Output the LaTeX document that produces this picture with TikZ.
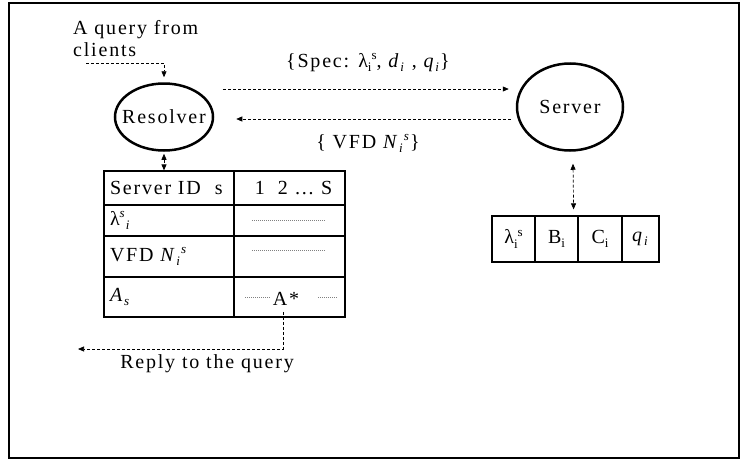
\documentclass[tikz,border=0pt]{standalone}
\usepackage{fontspec}
\setmainfont{Liberation Serif}[LetterSpace=9]
\usetikzlibrary{shapes.geometric,arrows.meta,calc}

% small raised and lowered indices
\newcommand{\subtx}[1]{\raisebox{-4.5pt}{\fontsize{13}{13}\selectfont #1}}
\newcommand{\suptx}[1]{\raisebox{7.5pt}{\fontsize{13}{13}\selectfont #1}}

\begin{document}
\begin{tikzpicture}[x=1pt, y=-1pt, >={Triangle[length=6pt,width=5pt]},
    every node/.style={font=\fontsize{20}{22}\selectfont},
    agent/.style={ellipse, draw=black, line width=2.5pt, inner sep=0pt},
    cell/.style={rectangle, draw=black, line width=1.2pt, inner xsep=6pt, inner ysep=0pt},
    keycell/.style={cell, minimum width=130pt, text width=118pt, align=left},
    valcell/.style={cell, minimum width=111pt, text width=99pt, align=center},
    slot/.style={cell, inner xsep=1pt, minimum height=46pt},
    flow/.style={line width=0.7pt, dash pattern=on 3pt off 2pt},
    filler/.style={gray, line width=0.5pt, dash pattern=on 1pt off 1pt} ]
    \useasboundingbox (0,0) rectangle (741,463);
    \draw[line width=2.8pt] (9,3) rectangle (739,458);

    \node[agent, minimum width=98pt, minimum height=67pt, label=center:Resolver] (resolver) at (164,117) {};
    \node[agent, minimum width=106pt, minimum height=87pt, label=center:Server] (server) at (570,107) {};

    \node[anchor=north west, align=left, inner sep=0pt] (query) at (73,20) {A query from\\clients};
    \coordinate (qin) at (86,63);
    \node[anchor=base, inner sep=0pt] (spec) at (368,67)
        {\{Spec: λ\subtx{i}\suptx{s}, \textit{d}\subtx{\textit{i}} , \textit{q}\subtx{\textit{i}}\}};
    \node[anchor=base, inner sep=0pt] (vfd) at (368,148)
        {\{ VFD \textit{N}\subtx{\textit{i}}\suptx{\textit{s}}\}};

    % Resolver table
    \node[keycell, minimum height=34pt] (idkey) at (169,188) {Server ID\hspace{14pt}s};
    \node[valcell, minimum height=34pt] (idval) at (289.5,188) {\hspace*{8pt}1\hspace{13pt}2 … S};
    \node[keycell, minimum height=31pt] (lamkey) at (169,220.5) {λ\suptx{\textit{s}}\subtx{\textit{i}}};
    \node[valcell, minimum height=31pt] (lamval) at (289.5,220.5) {};
    \node[keycell, minimum height=41pt] (vfdkey) at (169,256.5) {VFD \textit{N}\subtx{\textit{i}}\suptx{\textit{s}}};
    \node[valcell, minimum height=41pt] (vfdval) at (289.5,256.5) {};
    \node[keycell, minimum height=40pt] (akey) at (169,297) {\textit{A}\subtx{\textit{s}}};
    \node[valcell, minimum height=40pt] (aval) at (289.5,297) {};
    \node[inner sep=1pt] (astar) at (286,299) {A*};

    \draw[filler] ($(lamval.center)+(-37.5,0)$) -- ($(lamval.center)+(35.5,0)$);
    \draw[filler] ($(vfdval.center)+(-37.5,-6.5)$) -- ($(vfdval.center)+(35.5,-6.5)$);
    \draw[filler] ($(aval.center)+(-44.5,0)$) -- ($(aval.center)+(-19.5,0)$);
    \draw[filler] ($(aval.center)+(28.5,0)$) -- ($(aval.center)+(47.5,0)$);

    % Server record
    \node[slot, minimum width=43pt] (slam) at (513.5,239) {λ\subtx{i}\suptx{s}};
    \node[slot, minimum width=43pt] (sb) at (556.5,239) {B\subtx{i}};
    \node[slot, minimum width=44pt] (sc) at (600,239) {C\subtx{i}};
    \node[slot, minimum width=37pt] (sq) at (640.5,239) {\textit{q}\subtx{\textit{i}}};

    \coordinate (replyend) at (78,349);
    \node[anchor=base] (reply) at (207,368) {Reply to the query};

    % Edges
    \draw[flow,->,shorten >=5pt] (qin) -| (resolver.north);
    \draw[flow,<->,shorten <=2pt] (resolver.south) -- (resolver.south |- idkey.north);
    \draw[flow,->] ($(resolver.east)+(9,-28)$) -- ($(server.west)+(-7,-18)$);
    \draw[flow,->] ($(server.west)+(-5,12)$) -- ($(resolver.east)+(22,2)$);
    \draw[flow,<->] ($(server.south)+(3,12)$) -- ($(sb.north east)+(-5,-6)$);
    \draw[flow,->,shorten <=5pt] ([xshift=-3pt]astar.south) |- (replyend);
\end{tikzpicture}
\end{document}
